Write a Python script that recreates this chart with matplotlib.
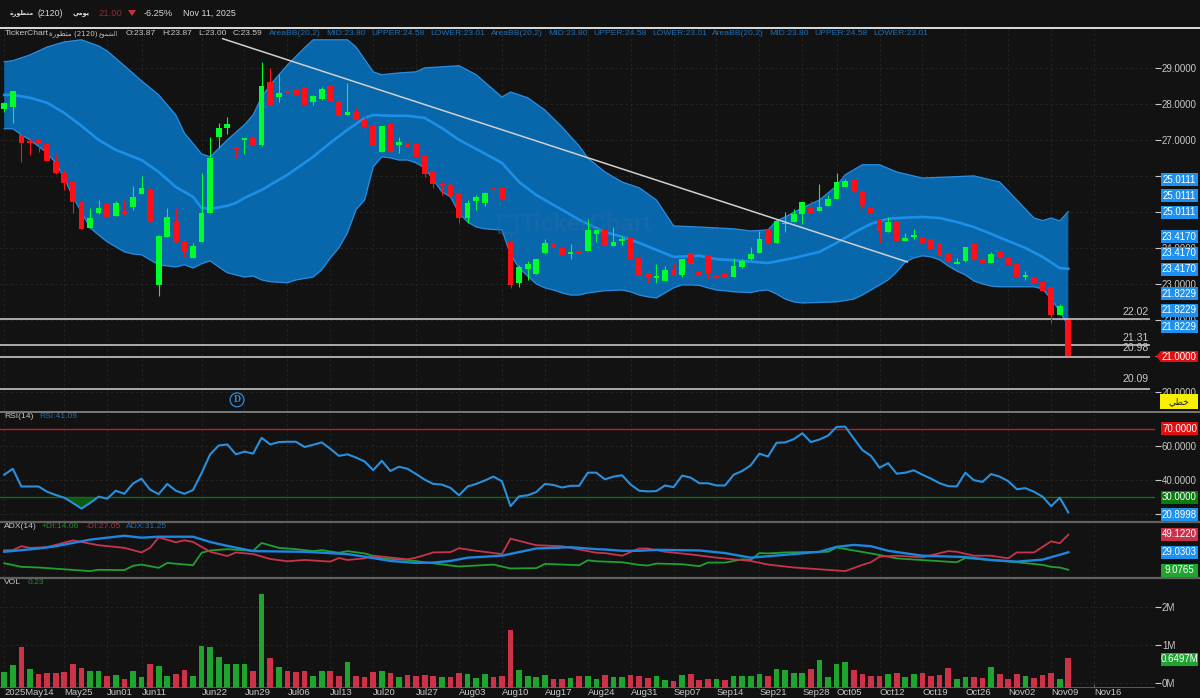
import numpy as np
import matplotlib
matplotlib.use("Agg")
import matplotlib.pyplot as plt
from matplotlib.patches import Rectangle, Polygon

# ------------ data ------------
opens = [27.86,27.92,27.14,26.97,27.00,26.89,26.39,26.08,25.83,25.28,
         24.56,24.97,25.22,24.89,25.03,25.14,25.50,25.64,22.97,24.31,
         24.72,24.17,23.72,24.17,24.97,27.08,27.33,26.81,27.00,27.08,
         26.86,28.61,28.19,28.36,28.39,28.47,28.06,28.14,28.50,28.08,
         27.69,27.78,27.56,27.39,26.67,27.44,26.86,26.92,26.89,26.56,
         26.11,25.78,25.75,25.53,24.83,25.31,25.25,25.67,25.67,24.17,
         23.03,23.42,23.28,23.86,24.14,24.00,23.83,23.92,23.92,24.39,
         24.50,24.06,24.19,24.28,23.72,23.28,23.17,23.08,23.39,23.25,
         23.86,23.33,23.78,23.22,23.28,23.19,23.47,23.69,23.86,24.53,
         24.14,24.67,24.72,24.94,25.11,25.03,25.17,25.36,25.69,25.89,
         25.58,25.11,24.78,24.44,24.75,24.19,24.31,24.31,24.25,24.14,
         23.83,23.56,23.64,24.11,23.69,23.58,23.92,23.72,23.56,23.19,
         23.19,23.06,22.92,22.14,22.00]
closes = [28.03,28.36,26.92,26.92,26.89,26.42,26.08,25.81,25.28,24.53,
          24.83,25.11,24.86,25.25,24.94,25.42,25.67,24.72,24.33,24.86,
          24.17,23.89,24.06,24.97,26.50,27.33,27.44,26.75,27.06,26.86,
          28.50,27.97,28.31,28.28,28.25,27.97,28.22,28.42,28.08,27.67,
          27.78,27.56,27.36,26.83,27.39,26.67,26.94,26.81,26.53,26.06,
          25.78,25.72,25.47,24.83,25.25,25.42,25.53,25.61,25.36,22.97,
          23.47,23.56,23.69,24.14,24.00,23.81,23.89,23.83,24.50,24.50,
          24.06,24.17,24.25,23.69,23.22,23.17,23.22,23.39,23.25,23.69,
          23.56,23.25,23.31,23.17,23.17,23.50,23.64,23.83,24.25,24.11,
          24.75,24.69,24.94,25.28,24.97,25.14,25.36,25.83,25.86,25.56,
          25.17,24.97,24.47,24.72,24.19,24.28,24.36,24.14,23.97,23.78,
          23.61,23.61,24.03,23.67,23.58,23.83,23.72,23.53,23.19,23.25,
          23.03,22.81,22.14,22.39,21.00]
highs = [28.06,28.36,27.14,27.06,27.03,26.92,26.61,26.17,25.83,25.33,
         25.11,25.33,25.22,25.31,25.33,25.72,26.00,25.67,24.36,25.11,
         25.11,24.19,24.14,26.08,27.08,27.47,27.64,26.81,27.06,27.22,
         29.17,29.00,28.83,28.53,28.39,28.47,28.25,28.47,28.53,28.08,
         28.58,27.89,27.75,27.39,27.39,27.44,27.08,26.94,26.92,26.56,
         26.11,25.83,25.81,25.56,25.33,25.47,25.56,25.67,25.69,24.42,
         23.53,23.64,23.69,24.25,24.14,24.00,24.11,24.17,24.81,24.50,
         24.50,24.58,24.33,24.28,23.72,23.28,23.56,23.50,23.58,23.69,
         23.86,23.33,23.78,23.22,23.47,23.72,23.69,24.03,24.47,24.53,
         24.78,25.00,25.08,25.28,25.31,25.78,25.47,26.08,25.92,25.89,
         25.58,25.11,24.78,24.86,24.75,24.42,24.53,24.31,24.25,24.14,
         23.83,23.72,24.03,24.11,23.81,23.89,23.92,23.72,23.56,23.36,
         23.19,23.06,22.92,22.44,22.00]
lows = [27.78,27.47,26.39,26.58,26.67,26.42,26.06,25.61,24.97,24.53,
        24.56,24.94,24.86,24.89,24.92,25.06,25.50,24.72,22.67,24.31,
        24.14,23.75,23.72,24.17,24.97,26.78,27.17,26.50,26.61,26.86,
        26.83,27.97,28.06,28.28,28.25,27.97,27.97,28.11,28.08,27.56,
        27.69,27.56,27.19,26.83,26.67,26.67,26.64,26.81,26.53,25.97,
        25.67,25.47,25.42,24.69,24.69,25.06,25.17,25.33,25.33,22.89,
        22.92,23.11,23.28,23.83,24.00,23.81,23.69,23.83,23.92,24.17,
        24.06,24.06,24.08,23.64,23.19,23.03,23.03,23.08,23.25,23.19,
        23.03,23.19,23.14,23.17,23.17,23.19,23.44,23.67,23.86,24.11,
        24.14,24.44,24.72,24.67,24.97,25.03,25.17,25.36,25.69,25.56,
        25.11,24.86,24.14,24.44,24.19,24.19,24.25,24.14,23.97,23.78,
        23.61,23.56,23.61,23.67,23.58,23.58,23.72,23.53,23.19,23.11,
        23.03,22.81,21.92,22.14,21.00]

upper_x = [0,1,3,5,7,9,11,12,14,16,18,20,21,23,24,26,28,29,30,31,33,35,36,40,41,43,44,46,48,49,
           51,53,55,58,59,61,63,65,67,68,70,72,74,76,78,81,85,87,89,90,91,93,95,97,98,100,102,
           104,107,110,113,116,118,120,121,122,123,124]
upper = [29.17,29.20,29.36,29.58,29.72,29.78,29.61,29.47,29.06,28.64,28.25,27.69,27.19,26.61,
         26.53,27.00,27.42,27.69,28.19,28.53,29.08,29.56,29.78,29.78,29.58,28.89,28.81,28.86,
         28.89,29.00,29.03,29.06,28.81,28.19,28.33,28.17,27.83,27.36,26.83,26.50,26.11,25.83,
         25.67,25.33,24.61,24.58,24.53,24.47,24.50,24.75,24.86,25.11,25.33,25.72,26.03,26.31,
         26.31,26.11,25.94,25.97,26.00,25.83,25.33,24.83,24.76,24.83,24.75,25.01]

lower_x = [0,1,2,3,5,6,7,8,9,10,11,12,13,14,15,16,17,18,19,20,21,22,23,24,25,26,27,28,29,30,31,
           33,34,36,37,38,39,40,41,42,43,44,45,46,47,48,49,50,51,52,53,54,55,56,57,58,59,60,61,
           62,63,64,65,66,67,68,69,70,72,73,74,75,76,77,78,79,80,81,82,83,84,85,87,88,89,90,91,
           92,93,97,99,100,102,103,104,105,106,107,108,109,110,111,112,113,114,115,116,120,121,
           122,123,124]
lower = [27.31,27.31,27.14,27.00,26.64,26.36,25.94,25.42,25.00,24.56,24.36,24.17,24.03,23.89,
         23.83,23.81,23.67,23.53,23.50,23.47,23.53,23.44,23.56,23.64,23.47,23.31,23.25,23.19,
         23.22,23.11,23.06,23.03,23.11,23.19,23.39,23.72,24.00,24.42,25.06,25.33,26.25,26.53,
         26.50,26.44,26.44,26.36,26.22,25.89,25.56,25.42,24.97,24.72,24.58,24.53,24.51,24.50,
         23.81,23.44,23.22,23.00,22.89,22.83,22.75,22.69,22.69,22.75,22.78,22.81,22.83,22.78,
         22.69,22.64,22.61,22.75,22.89,22.97,22.97,22.96,22.89,22.83,22.81,22.78,22.76,22.81,
         22.83,22.72,22.58,22.50,22.47,22.50,22.58,22.69,22.97,23.11,23.33,23.61,23.72,23.78,
         23.75,23.67,23.50,23.36,23.25,23.08,23.00,22.94,22.92,22.92,22.86,22.58,22.25,21.82]

mid_x = [0,1,3,5,7,9,11,13,16,18,20,22,23,24,26,27,28,30,33,36,38,40,42,43,45,47,49,51,53,55,58,
         60,62,63,65,67,70,72,74,78,81,83,86,89,92,95,97,99,101,103,105,107,109,111,113,115,117,
         119,121,123,124]
mid = [28.25,28.25,28.17,28.03,27.75,27.39,27.00,26.72,26.44,26.11,25.69,25.42,25.11,25.08,25.17,
       25.25,25.39,25.61,26.03,26.53,26.92,27.28,27.61,27.69,27.67,27.67,27.61,27.33,27.00,26.75,
       26.36,25.83,25.47,25.33,25.06,24.78,24.44,24.31,24.14,23.75,23.78,23.69,23.64,23.58,23.72,
       23.89,24.14,24.42,24.67,24.81,24.84,24.86,24.83,24.72,24.58,24.39,24.19,24.00,23.75,23.44,
       23.42]

trend_x = [25.47, 105.25]
trend_y = [29.81, 23.61]
hlevels = [22.02, 21.31, 20.98, 20.09]

rsi = [43.1,46.6,36.2,36.2,36.2,33.1,31.2,29.6,26.5,23.2,26.5,30.2,29.0,33.7,31.9,37.9,40.8,34.3,
       31.7,37.7,33.7,31.9,34.1,44.1,55.1,60.3,60.9,55.1,56.7,55.5,64.8,60.9,62.3,62.5,62.5,59.4,
       60.7,62.1,58.4,54.2,55.1,53.2,50.9,45.8,51.3,45.3,47.8,46.6,43.5,40.2,37.7,37.3,35.4,31.0,
       36.2,37.7,39.7,42.0,39.3,24.6,30.4,31.0,32.9,37.7,37.1,35.6,36.6,36.6,44.3,44.3,
       40.4,42.0,42.8,37.3,33.7,33.3,33.5,36.8,35.8,42.6,41.4,38.1,38.1,36.8,36.8,43.1,45.3,48.7,
       55.5,53.8,61.9,62.1,64.0,67.5,62.3,63.8,66.1,71.2,71.4,64.4,57.6,54.2,47.2,49.9,43.7,44.3,
       45.7,43.1,40.8,38.1,36.4,36.2,44.3,39.9,38.9,43.5,42.0,39.3,34.6,35.2,33.1,30.2,24.6,29.6,20.9]

adx_x = [0,4,6,10,14,16,18,22,24,26,29,35,40,42,45,48,50,52,54,58,62,66,69,70,72,74,76,81,84,87,
         92,95,97,99,101,103,107,112,115,118,121,124]
adx = [29.64,33.38,36.00,43.47,47.96,45.72,46.84,46.84,40.86,36.37,30.39,29.64,27.02,24.03,19.17,
       16.93,17.30,19.17,22.91,25.15,33.38,34.87,32.63,32.26,30.76,30.76,31.88,31.14,28.15,22.91,
       27.02,29.64,35.25,37.49,36.00,30.76,25.15,23.66,20.30,18.43,20.67,29.03]

minus_di_x = [0,1,2,3,5,8,11,14,16,17,18,20,21,22,24,26,27,29,31,33,35,38,39,40,42,43,47,48,50,52,
              53,55,58,59,62,65,67,69,70,72,74,75,77,80,83,87,89,92,98,100,101,102,104,107,110,
              111,113,115,117,118,120,122,123,124]
minus_di = [31.51,31.51,36.00,34.13,34.87,42.72,37.12,34.13,28.89,34.13,46.09,40.48,42.72,40.86,
            29.64,24.78,28.89,27.02,21.42,18.80,20.30,18.43,22.54,20.30,22.16,25.15,21.04,22.91,
            28.89,29.27,33.75,30.76,27.02,44.59,37.12,36.00,32.26,28.52,28.15,25.15,33.38,33.38,
            29.64,26.65,22.91,19.17,15.06,11.70,7.58,14.69,17.68,24.03,25.15,23.29,30.39,29.64,
            25.15,25.15,22.16,28.89,28.89,41.60,39.36,49.12]

plus_di_x = [0,2,4,10,11,14,15,16,18,19,22,23,24,26,29,30,32,34,36,37,39,40,42,44,47,49,53,57,59,
             62,63,67,68,69,70,72,74,75,76,79,81,82,84,86,87,88,89,91,96,97,101,104,105,111,112,
             118,121,122,123,124]
plus_di = [16.56,12.44,11.70,7.58,9.08,8.70,13.57,15.06,11.32,16.93,14.31,28.52,31.14,32.63,30.76,
           39.73,34.13,32.63,30.39,31.51,28.52,30.39,27.77,22.16,20.30,17.68,12.82,15.06,10.58,
           10.95,15.81,14.31,19.92,18.80,18.43,17.68,14.69,13.94,16.18,15.44,13.19,17.30,17.30,
           21.04,20.30,28.15,27.77,28.89,29.64,34.50,27.77,22.16,21.42,17.68,22.54,17.68,14.69,
           12.44,11.70,9.08]

volume = [.28,.46,.94,.36,.23,.27,.25,.28,.51,.40,.32,.32,.17,.21,.11,.32,.15,.49,.45,.17,
          .22,.34,.17,.98,.94,.68,.51,.49,.51,.32,2.36,.66,.42,.32,.28,.30,.17,.32,.30,.19,
          .55,.19,.15,.28,.30,.27,.15,.21,.19,.21,.17,.15,.15,.25,.24,.13,.23,.15,.17,1.39,
          .34,.17,.15,.21,.11,.09,.13,.19,.17,.11,.21,.15,.15,.21,.19,.13,.19,.06,.04,.21,
          .24,.06,.11,.11,.06,.19,.17,.19,.24,.18,.36,.34,.25,.25,.36,.61,.15,.51,.54,.34,
          .24,.19,.19,.24,.25,.15,.24,.25,.19,.21,.40,.09,.15,.15,.13,.43,.24,.11,.24,.17,
          .13,.21,.25,.09,.65]
# 1 = green volume bar, 0 = red
vol_up = [1,1,0,1,0,0,0,0,0,0,1,1,0,1,0,1,1,0,1,1,0,0,1,1,1,1,1,1,1,0,1,0,1,0,0,0,1,1,0,0,
          1,0,0,0,1,0,1,0,0,0,0,1,0,0,1,1,1,0,0,0,1,1,1,1,0,0,1,0,1,1,0,1,1,0,0,0,1,1,0,1,
          0,0,0,1,0,1,1,1,1,0,1,1,1,1,0,1,1,1,1,0,0,0,0,1,0,1,1,0,0,0,0,1,1,0,0,1,0,0,0,1,
          0,0,0,1,0]

tick_idx = [0,7,12,16,23,28,33,38,43,48,53,58,63,68,73,78,83,88,93,97,102,107,112,117,122,127]
tick_names = ["2025May14","May25","Jun01","Jun11","Jun22","Jun29","Jul06","Jul13","Jul20","Jul27",
              "Aug03","Aug10","Aug17","Aug24","Aug31","Sep07","Sep14","Sep21","Sep28","Oct05",
              "Oct12","Oct19","Oct26","Nov02","Nov09","Nov16"]

# arabic written as presentation forms in visual order, matplotlib does not shape
name_ar = "\ufe93\ufead\ufeee\ufec4\ufe98\ufee3"    # متطورة
daily_ar = "\ufef2\ufee3\ufeee\ufef3"                # يومي
candles_ar = "\ufec9\ufeee\ufee4\ufeb8\ufedf\ufe8d"  # الشموع
linear_ar = "\ufef2\ufec4\ufea7"                     # خطي

# ------------ style ------------
BG = "#121212"
GRID = "#272727"
TXT = "#c8c8c8"
BLUE_TXT = "#1f6fb5"
UP = "#00ff2a"
DOWN = "#ff1018"
FONT = ["Liberation Sans", "DejaVu Sans"]
plt.rcParams["font.family"] = FONT

W, H = 1200, 698
RIGHT = 1155
fig = plt.figure(figsize=(W / 100, H / 100), dpi=100, facecolor=BG)


def panel(top, bottom, ylim, yticks, ylabels):
    ax = fig.add_axes([0, 1 - bottom / H, RIGHT / W, (bottom - top) / H], facecolor=BG)
    ax.set_xlim(-0.49, 134.1)
    ax.set_ylim(*ylim)
    for s in ax.spines.values():
        s.set_visible(False)
    ax.yaxis.tick_right()
    ax.set_yticks(yticks)
    ax.set_yticklabels(ylabels)
    ax.tick_params(axis="y", length=4, width=0.8, color=TXT, labelcolor=TXT, labelsize=7, pad=1)
    ax.set_xticks(tick_idx)
    ax.set_xticklabels([])
    ax.tick_params(axis="x", length=0)
    ax.grid(True, color=GRID, lw=0.6, ls=(0, (3, 3)))
    ax.set_axisbelow(True)
    return ax


price_ticks = [29, 28, 27, 26, 25, 24, 23, 22, 21, 20]
# 26 and 21 sit fully behind the value tags
price_labels = ["" if v in (26, 25, 21) else "%.4f" % v for v in price_ticks]
ax_p = panel(29, 411, (19.47, 30.08), price_ticks, price_labels)
ax_r = panel(413, 521, (15.9, 79.4), [60, 40, 20], ["60.0000", "40.0000", ""])
ax_a = panel(523, 577, (0.85, 62.5), [], [])
ax_v = panel(579, 687.5, (-0.126, 2.755), [2, 1, 0], ["2M", "1M", "0M"])

# price panel
ax_p.fill(list(upper_x) + list(lower_x[::-1]), list(upper) + list(lower[::-1]),
          color="#0866ab", lw=0, zorder=1)
ax_p.plot(upper_x, upper, color="#2b8de0", lw=0.9, zorder=2)
ax_p.plot(lower_x, lower, color="#2b8de0", lw=0.9, zorder=2)
ax_p.plot(mid_x, mid, color="#1c8fe8", lw=1.9, zorder=2)
ax_p.add_patch(Rectangle((57.6, 24.42), 2.1, 0.46, fc="none", ec="#2a6ea8", alpha=0.4, lw=1.5, zorder=2))
ax_p.text(60.2, 24.66, "TickerChart", color="#2a6ea8", alpha=0.4, fontsize=17,
          fontweight="bold", va="center", zorder=2)

ax_p.hlines(hlevels, -0.49, 133.5, color="#c4c4c4", lw=1.2, zorder=3)
for lev, dy in zip(hlevels, [0.2, 0.2, 0.24, 0.28]):
    ax_p.text(133.4, lev + dy, "%.2f" % lev, color=TXT, fontsize=7.6, ha="right", va="center")

x = np.arange(len(opens))
o, c = np.array(opens), np.array(closes)
cols = [UP if b >= a else DOWN for a, b in zip(opens, closes)]
ax_p.vlines(x, lows, highs, colors=cols, lw=0.8, zorder=4)
ax_p.bar(x, np.abs(c - o), bottom=np.minimum(o, c), width=0.66, color=cols, lw=0, zorder=5)
ax_p.plot(trend_x, trend_y, color="#d0d0d0", lw=1.1, zorder=6)
ax_p.text(27.13, 19.78, "D", color="#2b8de0", fontsize=7, family="Liberation Serif",
          fontweight="bold", ha="center", va="center", zorder=6,
          bbox=dict(boxstyle="circle,pad=0.25", fc=BG, ec="#2b8de0", lw=0.9))

# rsi panel
ax_r.axhline(70, color="#c81a1a", lw=1)
ax_r.axhline(30, color="#0f6e14", lw=1)
rsi_x = np.arange(len(rsi))
# only the may dip is shaded in the reference
ax_r.fill_between(rsi_x, rsi, 30, where=(np.array(rsi) < 30) & (rsi_x < 12), color="#0b5a10",
                  lw=0, interpolate=True)
ax_r.plot(rsi_x, rsi, color="#2b8fdc", lw=1.5)

# adx panel
ax_a.plot(plus_di_x, plus_di, color="#20a030", lw=1.3)
ax_a.plot(minus_di_x, minus_di, color="#c8344a", lw=1.3)
ax_a.plot(adx_x, adx, color="#1c86e0", lw=1.7)

# volume panel
vol_cols = ["#1fa52f" if u else "#cc3349" for u in vol_up]
vol_base = ax_v.get_ylim()[0]
ax_v.bar(np.arange(len(volume)), np.array(volume) - vol_base, bottom=vol_base,
         width=0.66, color=vol_cols, lw=0, zorder=3)
ax_v.axhline(vol_base, color="#666666", lw=1.2, zorder=4)
ax_v.set_xticklabels(tick_names, fontsize=6.8, color=TXT, ha="left")
ax_v.tick_params(axis="x", length=3, width=0.7, color="#666666", direction="in", pad=0.5)

# overlay in pixels for header text and the value tags on the right
ov = fig.add_axes([0, 0, 1, 1], facecolor="none")
ov.set_xlim(0, W)
ov.set_ylim(H, 0)
ov.axis("off")


def label(px, py, s, color=TXT, size=6.1, **kw):
    ov.text(px, py, s, color=color, fontsize=size, va="center", **kw)


def tag(py, s, color, txt="white", h=13):
    ov.add_patch(Rectangle((1161, py - h / 2), 37, h, fc=color, ec="none", zorder=5))
    ov.text(1179.5, py, s, color=txt, fontsize=7, ha="center", va="center", zorder=6)


# separators
for py, col, lw in [(28, "#dcdcdc", 1.4), (412, "#8a8a8a", 1.2), (522, "#606060", 1.6), (578, "#606060", 1.6)]:
    ov.plot([0, W], [py, py], color=col, lw=lw)

# top bar
label(10, 13, name_ar, color="#e0e0e0", size=4.6, fontweight="bold", family="DejaVu Sans")
label(37, 13, "(2120)", color="#d8d8d8", size=6.3)
label(73, 13, daily_ar, color="#e0e0e0", size=4.7, fontweight="bold", family="DejaVu Sans")
label(98, 13, "21.00", color="#8e2a36", size=6.8)
ov.add_patch(Polygon([(128, 10), (136, 10), (132, 16)], fc="#c8303c", ec="none"))
label(144, 13, "-6.25%", color="#d8d8d8", size=6.6)
label(183, 13, "Nov 11, 2025", color="#d8d8d8", size=6.4)

# price legend
label(5, 33.5, "TickerChart")
label(49, 33.5, name_ar + " (2120)", size=5.1, family=["DejaVu Sans"])
label(99, 33.5, candles_ar, size=4.3, family=["DejaVu Sans"])
for px, s in [(126, "O:23.87"), (162, "H:23.87"), (198, "L:23.00"), (233, "C:23.59")]:
    label(px, 33.5, s)
for off in [0, 222, 443]:
    label(269 + off, 33.5, "AreaBB(20,2)", color=BLUE_TXT)
    label(326 + off, 33.5, "MID:23.80", color=BLUE_TXT)
    label(371 + off, 33.5, "UPPER:24.58", color=BLUE_TXT)
    label(430 + off, 33.5, "LOWER:23.01", color=BLUE_TXT)

# indicator legends
label(4, 417, "RSI(14)")
label(39, 417, "RSI:41.09", color=BLUE_TXT)
label(4, 527, "ADX(14)")
label(42, 527, "+DI:14.06", color="#1f8f2c")
label(86, 527, "-DI:27.05", color="#b5303f")
label(126, 527, "ADX:31.25", color=BLUE_TXT)
label(4, 583, "VOL")
label(28, 583, "0.23", color="#1f8f2c")

# value tags
for py, s in [(179.7, "25.0111"), (195.7, "25.0111"), (212.3, "25.0111"),
              (236.7, "23.4170"), (253, "23.4170"), (269, "23.4170"),
              (293.7, "21.8229"), (310.3, "21.8229"), (326.7, "21.8229")]:
    tag(py, s, "#1e90f0")
ov.add_patch(Polygon([(1156, 356.5), (1161, 351), (1161, 362)], fc="#e01010", ec="none", zorder=5))
tag(356.5, "21.0000", "#e01010", h=11)
ov.add_patch(Rectangle((1160, 394), 38, 15, fc="#f7f000", ec="none", zorder=5))
ov.text(1179, 401.5, linear_ar, color="#222222", fontsize=6.6, ha="center", va="center",
        family="DejaVu Sans", zorder=6)
tag(428.5, "70.0000", "#e01010")
tag(497.5, "30.0000", "#0b7a10")
tag(514.5, "20.8998", "#1e90f0")
tag(534, "49.1220", "#c8324a")
tag(552, "29.0303", "#1e90f0")
tag(570, "9.0765", "#1fa52f")
tag(659, "0.6497M", "#1fa52f")

fig.savefig("out.png", dpi=100, facecolor=BG)
